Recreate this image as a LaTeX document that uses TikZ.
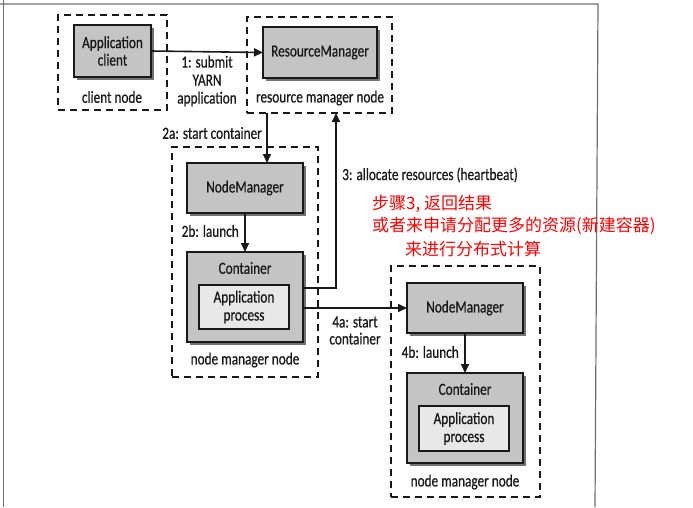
\documentclass[tikz,border=0pt]{standalone}
\usepackage{fontspec}
\setmainfont{Carlito}[FakeStretch=0.78,FakeBold=0.6]
\newfontfamily\cjk{Noto Sans CJK SC}
\usetikzlibrary{arrows.meta,shadows}
\definecolor{boxgray}{RGB}{196,196,196}
\definecolor{procgray}{RGB}{232,232,232}
\definecolor{ink}{RGB}{25,25,25}
\definecolor{framegray}{RGB}{110,110,110}
\tikzset{
  txt/.style={font=\fontsize{17}{17}\selectfont, text=ink, align=center, inner sep=0pt},
  group/.style={draw=ink, line width=1.8pt, dash pattern=on 7pt off 5pt, inner sep=0pt, outer sep=0pt},
  comp/.style={draw=ink, line width=2pt, fill=boxgray, inner sep=0pt, outer sep=0pt,
     drop shadow={shadow xshift=2.5pt, shadow yshift=-2.5pt, fill=black!55, opacity=1},
     font=\fontsize{17}{17.5}\selectfont, text=ink, align=center},
  proc/.style={draw=ink, line width=2pt, fill=procgray, inner sep=0pt, outer sep=0pt,
     font=\fontsize{17}{18}\selectfont, text=ink, align=center},
  arr/.style={draw=ink, line width=1.6pt, -{Triangle[length=9pt,width=8pt]}},
  note/.style={font=\cjk\fontsize{17}{22}\selectfont, text=red, inner sep=0pt, anchor=west}
}
\begin{document}
\begin{tikzpicture}[x=1pt,y=-1pt]
\useasboundingbox (0,0) rectangle (693,507);
\fill[white] (0,0) rectangle (693,507);
% scan frame
\draw[framegray, line width=1.2pt] (0,4) -- (598,4) -- (595,507);
\draw[framegray, line width=1pt] (3,0) -- (3,507);

% groups
\node[group, minimum width=109pt, minimum height=95pt] (cg) at (112.5,62.5) {};
\node[group, minimum width=145pt, minimum height=96pt] (rg) at (319.5,65) {};
\node[group, minimum width=146pt, minimum height=230pt] (ng1) at (245,262) {};
\node[group, minimum width=149pt, minimum height=231pt] (ng2) at (465.5,381.5) {};

% components
\node[comp, minimum width=77pt, minimum height=52pt] (app) at (112.5,51) {Application\\client};
\node[comp, minimum width=114pt, minimum height=51pt] (rm) at (320,52.5) {ResourceManager};
\node[comp, minimum width=116pt, minimum height=50pt] (nm1) at (245,188) {NodeManager};
\node[comp, minimum width=116pt, minimum height=90pt] (c1) at (245,297) {};
\node[txt] (c1t) at (245,268) {Container};
\node[proc, minimum width=90pt, minimum height=44pt] (p1) at (244,307) {Application\\process};
\node[comp, minimum width=116pt, minimum height=50pt] (nm2) at (465,308) {NodeManager};
\node[comp, minimum width=116pt, minimum height=90pt] (c2) at (465,418) {};
\node[txt] (c2t) at (465,389) {Container};
\node[proc, minimum width=90pt, minimum height=45pt] (p2) at (464,428.5) {Application\\process};

% group labels
\node[txt] (cgl) at (112,97) {client node};
\node[txt] (rgl) at (320,98) {resource manager node};
\node[txt] (ng1l) at (245,360) {node manager node};
\node[txt] (ng2l) at (465,482) {node manager node};

% connectors
\draw[arr] (app.east) -- (rm.west);
\node[txt, font=\fontsize{17}{18}\selectfont] (l1) at (207,81) {1: submit\\YARN\\application};
\draw[arr] ([xshift=22pt]nm1.north |- rg.south) -- ([xshift=22pt]nm1.north);
\node[txt, anchor=east] (l2a) at (262,133) {2a: start container};
\draw[arr] (nm1.south) -- (c1.north);
\node[txt, anchor=east] (l2b) at (239,231) {2b: launch};
\draw[arr] ([yshift=9pt]c1.east) -| ([xshift=16.5pt]rg.south);
\node[txt, anchor=west] (l3) at (342,175) {3: allocate resources (heartbeat)};
\draw[arr] (c1.east |- nm2.west) -- (nm2.west);
\node[txt, font=\fontsize{17}{17}\selectfont] (l4a) at (355,330.5) {4a: start\\container};
\draw[arr] (nm2.south) -- (c2.north);
\node[txt, anchor=east] (l4b) at (459,352) {4b: launch};

% red annotation
\node[note] (n1) at (372,204) {步骤3, 返回结果};
\node[note] (n2) at (372,226) {或者来申请分配更多的资源(新建容器)};
\node[note] (n3) at (405,249) {来进行分布式计算};
\end{tikzpicture}
\end{document}
